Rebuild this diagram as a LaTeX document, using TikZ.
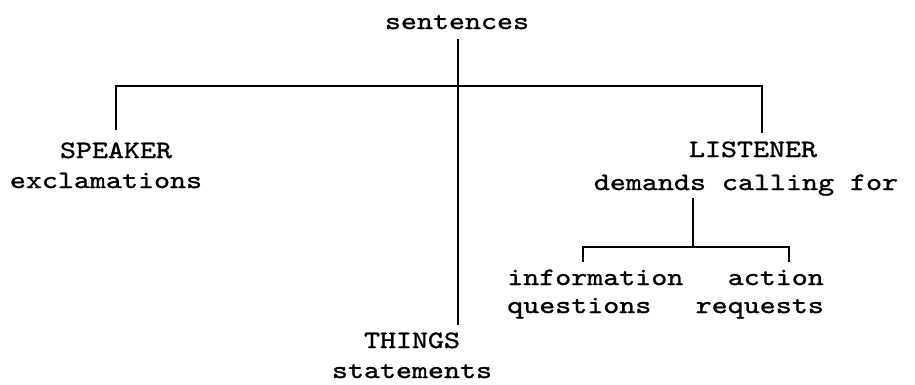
\documentclass[tikz,border=0pt]{standalone}
\usepackage{fontspec}
\newfontfamily\treefont{lmmono10-regular.otf}[FakeStretch=1.22,FakeBold=1.2]

\tikzset{
  lbl/.style={font=\treefont\fontsize{25}{30}\selectfont, inner sep=0pt, anchor=base},
  branch/.style={line width=1.2pt}
}

\begin{document}
\begin{tikzpicture}[x=1pt,y=-1pt]
\useasboundingbox (0,0) rectangle (915,384);

\node[lbl] (sentences) at (457,29) {sentences};
\node[lbl] (speaker) at (116,158) {SPEAKER};
\node[lbl] (exclam) at (106,188) {exclamations};
\node[lbl] (listener) at (753,157) {LISTENER};
\node[lbl] (demands) at (746,190) {demands calling for};
\node[lbl, anchor=base west] (info) at (507,285) {information};
\node[lbl, anchor=base west] (questions) at (507,313) {questions};
\node[lbl, anchor=base east] (action) at (824,285) {action};
\node[lbl, anchor=base east] (requests) at (824,313) {requests};
\node[lbl] (things) at (412,348) {THINGS};
\node[lbl] (statements) at (412,378) {statements};

\coordinate (hub) at (458,86);
\coordinate (fork) at (693,247);
\coordinate (lisdrop) at (762,133);
\coordinate (infodrop) at (583,262);
\coordinate (actdrop) at (789,262);

\draw[branch] ([yshift=-10pt]sentences.base -| hub) -- ([yshift=23pt]things.base -| hub);
\draw[branch] ([yshift=28pt]speaker.base) |- (hub) -| (lisdrop);
\draw[branch] ([yshift=-8pt]demands.base -| fork) -- (fork);
\draw[branch] (infodrop) |- (fork) -| (actdrop);
\end{tikzpicture}
\end{document}
